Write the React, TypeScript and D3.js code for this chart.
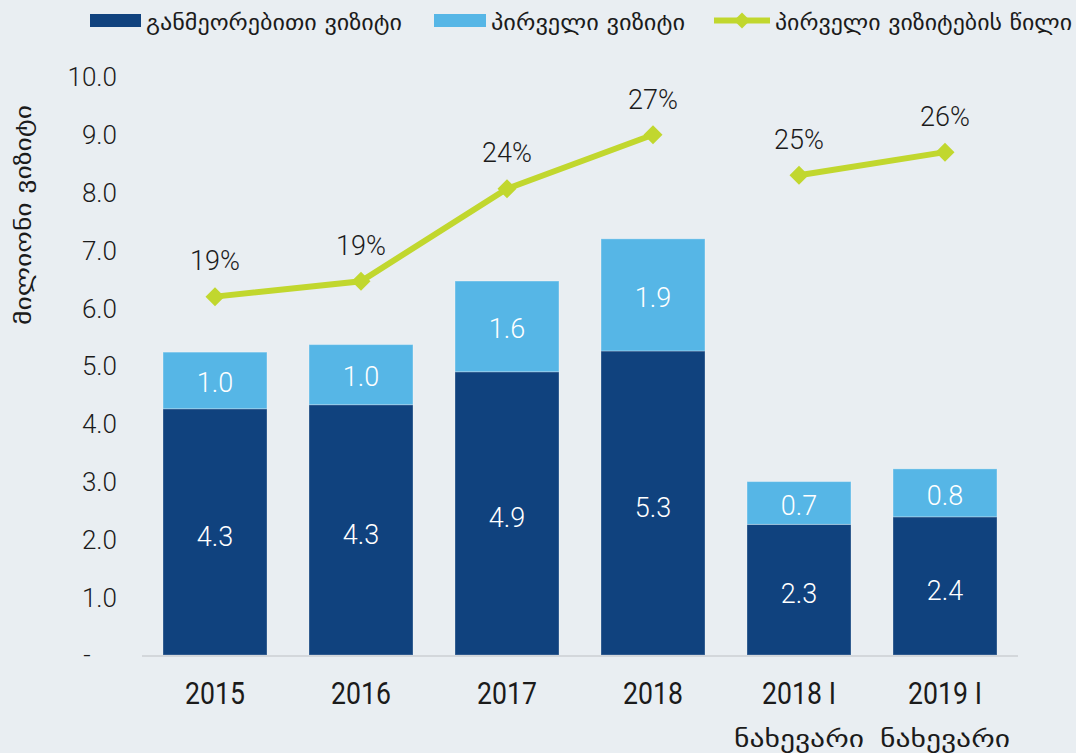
import React from "react";
import * as d3 from "d3";

const categories = ["2015", "2016", "2017", "2018", "2018 I|ნახევარი", "2019 I|ნახევარი"];
const repeatVisits = [4.26, 4.33, 4.9, 5.26, 2.26, 2.39];
const firstVisits = [0.98, 1.04, 1.57, 1.94, 0.74, 0.83];
const firstShare = [0.186, 0.194, 0.242, 0.27, 0.249, 0.261];
const yTicks = [0, 1, 2, 3, 4, 5, 6, 7, 8, 9, 10];
const legendLabels = ["განმეორებითი ვიზიტი", "პირველი ვიზიტი", "პირველი ვიზიტების წილი"];
const yTitle = "მილიონი ვიზიტი";

const W = 1076;
const H = 753;
const BG = "#E9EEF2";
const DARK = "#10427E";
const LIGHT = "#56B6E6";
const GREEN = "#C1D72E";
const TEXT = "#1b1b1b";
const NUM_FONT = "Roboto, 'DejaVu Sans', sans-serif";
const GEO_FONT = "'DejaVu Sans Condensed', 'DejaVu Sans', sans-serif";

export default function App() {
  const x = d3.scaleBand<string>().domain(categories).range([142, 1018]).paddingInner(0.288).paddingOuter(0.144);
  const y = d3.scaleLinear().domain([0, 10]).range([655, 77]);
  const y2 = d3.scaleLinear().domain([0, 0.3]).range([655, 77]);
  const bw = x.bandwidth();
  const cx = (c: string) => (x(c) as number) + bw / 2;
  const fmt1 = d3.format(".1f");
  const fmtPct = d3.format(".0%");

  const lineFor = (from: number, to: number) =>
    d3
      .line<number>()
      .defined((_, i) => i >= from && i < to)
      .x((_, i) => cx(categories[i]))
      .y((d) => y2(d))(firstShare) || "";

  const diamond = (px: number, py: number, r: number) =>
    `M${px},${py - r}L${px + r},${py}L${px},${py + r}L${px - r},${py}Z`;

  return (
    <svg
      width={W}
      height={H}
      style={{ position: "absolute", left: 0, top: 0, display: "block" }}
    >
      <rect x={0} y={0} width={W} height={H} fill={BG} />

      {/* Legend */}
      <g>
        <rect x={90} y={14} width={51} height={13} fill={DARK} />
        <text x={146} y={30} fontFamily={GEO_FONT} fontSize={22} fill={TEXT} textLength={256} lengthAdjust="spacingAndGlyphs">
          {legendLabels[0]}
        </text>
        <rect x={434} y={14} width={52} height={13} fill={LIGHT} />
        <text x={491} y={30} fontFamily={GEO_FONT} fontSize={22} fill={TEXT} textLength={194} lengthAdjust="spacingAndGlyphs">
          {legendLabels[1]}
        </text>
        <line x1={714} x2={770} y1={20.5} y2={20.5} stroke={GREEN} strokeWidth={6} />
        <path d={diamond(742, 20.5, 8)} fill={GREEN} />
        <text x={775} y={30} fontFamily={GEO_FONT} fontSize={22} fill={TEXT} textLength={297} lengthAdjust="spacingAndGlyphs">
          {legendLabels[2]}
        </text>
      </g>

      {/* Y axis title */}
      <text
        transform={`translate(31,215) rotate(-90)`}
        textAnchor="middle"
        fontFamily={GEO_FONT}
        fontSize={22}
        fill={TEXT}
        textLength={220}
        lengthAdjust="spacingAndGlyphs"
      >
        {yTitle}
      </text>

      {/* Y tick labels */}
      {yTicks.map((t) =>
        t === 0 ? (
          <text key={t} x={87} y={y(t)} dy="0.35em" textAnchor="middle" fontFamily={NUM_FONT} fontWeight={300} fontSize={26} fill={TEXT}>
            -
          </text>
        ) : (
          <text key={t} x={117} y={y(t)} dy="0.36em" textAnchor="end" fontFamily={NUM_FONT} fontWeight={300} fontSize={26} fill={TEXT}>
            {fmt1(t)}
          </text>
        )
      )}

      {/* Bars */}
      {categories.map((c, i) => {
        const r = repeatVisits[i];
        const f = firstVisits[i];
        return (
          <g key={c}>
            <rect x={x(c)} y={y(r)} width={bw} height={y(0) - y(r)} fill={DARK} stroke="#ffffff" strokeOpacity={0.25} strokeWidth={1} />
            <rect x={x(c)} y={y(r + f)} width={bw} height={y(r) - y(r + f)} fill={LIGHT} stroke="#ffffff" strokeOpacity={0.3} strokeWidth={1} />
            <text x={cx(c)} y={(y(0) + y(r)) / 2 + 4} dy="0.36em" textAnchor="middle" fontFamily={NUM_FONT} fontWeight={300} fontSize={27} fill="#ffffff">
              {fmt1(r)}
            </text>
            <text x={cx(c)} y={(y(r) + y(r + f)) / 2 + 2} dy="0.36em" textAnchor="middle" fontFamily={NUM_FONT} fontWeight={300} fontSize={27} fill="#ffffff">
              {fmt1(f)}
            </text>
          </g>
        );
      })}

      {/* X axis line */}
      <line x1={142} x2={1018} y1={656} y2={656} stroke="#D3D7DB" strokeWidth={2} />

      {/* X labels */}
      {categories.map((c) => {
        const parts = c.split("|");
        return (
          <g key={c}>
            <text
              transform={`translate(${cx(c)},693) scale(0.86,1)`}
              dy="0.36em"
              textAnchor="middle"
              fontFamily={NUM_FONT}
              fontWeight={400}
              fontSize={31}
              fill={TEXT}
            >
              {parts[0]}
            </text>
            {parts[1] && (
              <text x={cx(c)} y={738} dy="0.36em" textAnchor="middle" fontFamily={GEO_FONT} fontSize={24} fill={TEXT} textLength={130} lengthAdjust="spacingAndGlyphs">
                {parts[1]}
              </text>
            )}
          </g>
        );
      })}

      {/* Share line: annual points connected, half-year points connected separately */}
      <path d={lineFor(0, 4)} fill="none" stroke={GREEN} strokeWidth={6} />
      <path d={lineFor(4, 6)} fill="none" stroke={GREEN} strokeWidth={6} />
      {firstShare.map((v, i) => (
        <g key={i}>
          <path d={diamond(cx(categories[i]), y2(v), 9.5)} fill={GREEN} />
          <text x={cx(categories[i])} y={y2(v) - 36} dy="0.36em" textAnchor="middle" fontFamily={NUM_FONT} fontWeight={300} fontSize={27} fill={TEXT}>
            {fmtPct(v)}
          </text>
        </g>
      ))}
    </svg>
  );
}
